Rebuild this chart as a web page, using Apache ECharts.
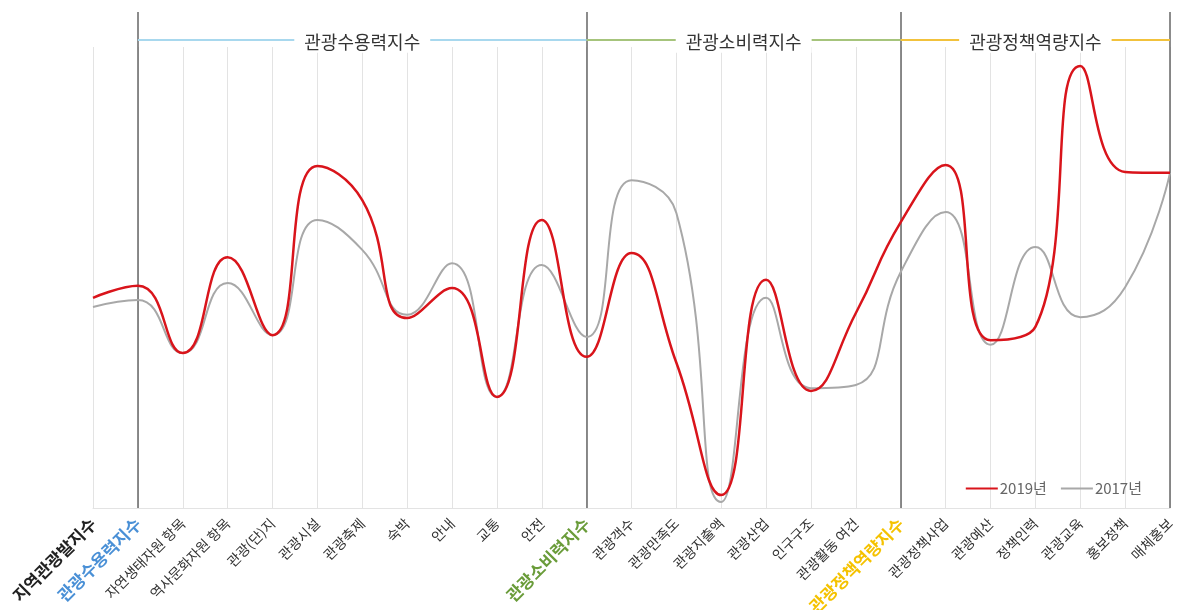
<!DOCTYPE html>
<html><head><meta charset="utf-8">
<script src="https://cdn.jsdelivr.net/npm/echarts@6/dist/echarts.min.js"></script>
<style>html,body{margin:0;padding:0;background:#fff}#c{width:1183px;height:610px}</style>
</head><body><div id="c"></div>
<script>
const categories = ['지역관광발지수','관광수용력지수','자연생태자원 항목','역사문화자원 항목','관광(단)지','관광시설','관광축제','숙박','안내','교통','안전','관광소비력지수','관광객수','관광만족도','관광지출액','관광산업','인구구조','관광활동 여건','관광정책역량지수','관광정책사업','관광예산','정책인력','관광교육','홍보정책','매체홍보'];
const values2019 = [45.6,48.2,33.6,54.4,37.5,74.2,66.8,41.2,47.7,24.1,62.5,32.8,55.3,31.5,2.8,49.5,25.4,42.3,62.0,74.4,36.4,39.3,95.9,72.9,72.7];
const values2017 = [43.6,45.1,33.6,48.8,37.5,62.5,56.0,41.9,53.1,24.1,52.7,37.1,71.1,64.0,1.3,45.6,26.0,26.7,51.2,64.2,35.4,56.6,41.4,47.9,72.7];
const headerNames = ['관광수용력지수','관광소비력지수','관광정책역량지수'];
const headerStart = [1, 11, 18];
const headerEnd = [11, 18, 24];
const headerColors = ['#a8d8ee','#a6c47c','#f2c23c'];
const dividerIdx = [1, 11, 18, 24];
const boldLabelStyle = {0:'k', 1:'b', 11:'g', 18:'y'};

const FONT = "'Noto Sans CJK KR', sans-serif";
const chart = echarts.init(document.getElementById('c'));

const headerLines = headerNames.map((n,i)=>[
  {coord:[categories[headerStart[i]], 94.4], lineStyle:{color:headerColors[i]}, name:n},
  {coord:[categories[headerEnd[i]], 94.4]}
]);

chart.setOption({
  animation:false,
  textStyle:{fontFamily:FONT},
  grid:[
    {left:93, right:13, top:47, bottom:102, containLabel:false, outerBoundsMode:'none'},
    {left:93, right:13, top:12, bottom:102, containLabel:false, outerBoundsMode:'none'}
  ],
  xAxis:[
    {type:'category', gridIndex:0, data:categories, boundaryGap:false,
     axisLine:{lineStyle:{color:'#e3e3e3', width:1}}, axisTick:{show:false},
     splitLine:{show:true, lineStyle:{color:'#e3e3e3', width:1}},
     axisLabel:{interval:0, rotate:45, margin:13, fontSize:14, color:'#333', fontFamily:FONT,
       formatter:(v,idx)=> boldLabelStyle[idx] ? '{'+boldLabelStyle[idx]+'|'+v+'}' : v,
       rich:{
         k:{fontSize:17, fontWeight:'bold', color:'#222', fontFamily:FONT},
         b:{fontSize:17, fontWeight:'bold', color:'#4a90d6', fontFamily:FONT},
         g:{fontSize:17, fontWeight:'bold', color:'#6a9c3a', fontFamily:FONT},
         y:{fontSize:17, fontWeight:'bold', color:'#f5c200', fontFamily:FONT}
       }}},
    {type:'category', gridIndex:1, data:categories, boundaryGap:false,
     axisLine:{show:false}, axisTick:{show:false}, axisLabel:{show:false},
     splitLine:{show:true, interval:(idx)=>dividerIdx.includes(idx), lineStyle:{color:'#666', width:1.5}}}
  ],
  yAxis:[
    {type:'value', gridIndex:0, min:0, max:100, show:false},
    {type:'value', gridIndex:1, min:0, max:100, show:false}
  ],
  legend:{right:36, top:476, icon:'rect', itemWidth:32, itemHeight:2, itemGap:14,
    textStyle:{fontSize:15, color:'#666', fontFamily:FONT, padding:[0,0,0,-3]},
    data:['2019년','2017년']},
  series:[
    {name:'2017년', type:'line', xAxisIndex:0, yAxisIndex:0, data:values2017, smooth:0.5, showSymbol:false, symbol:'none',
     lineStyle:{color:'#a8a8a8', width:2}, itemStyle:{color:'#a8a8a8'}},
    {name:'2019년', type:'line', xAxisIndex:0, yAxisIndex:0, data:values2019, smooth:0.5, showSymbol:false, symbol:'none',
     lineStyle:{color:'#d9141b', width:2.5}, itemStyle:{color:'#d9141b'}},
    {name:'headers', type:'line', xAxisIndex:1, yAxisIndex:1, data:[], silent:true,
     markLine:{symbol:'none', silent:true, lineStyle:{type:'solid', width:2},
       label:{show:true, position:'middle', distance:-13, formatter:'{b}', fontSize:18, color:'#333', backgroundColor:'#fff', padding:[2,10], fontFamily:FONT},
       data:headerLines}}
  ]
});
</script></body></html>
